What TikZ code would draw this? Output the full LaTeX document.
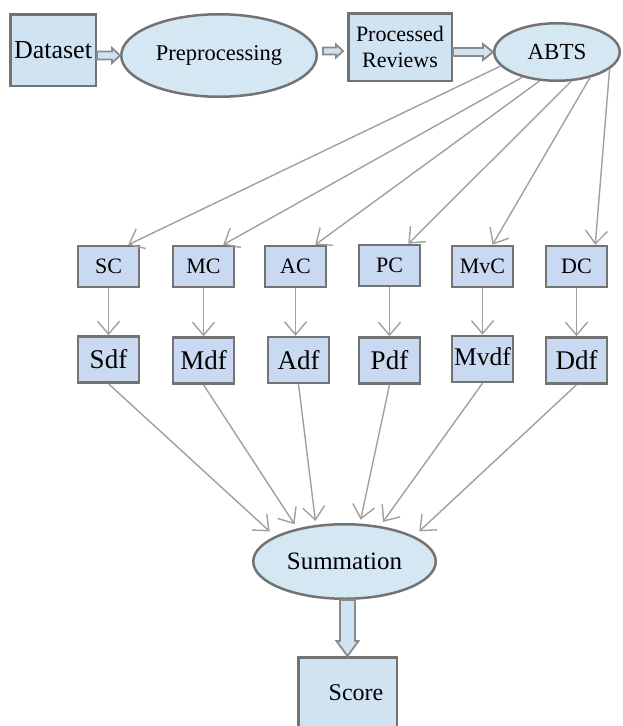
\documentclass[tikz,border=0pt]{standalone}
\usepackage{fontspec}
\setmainfont{Liberation Serif}[Ligatures=TeX]
\usetikzlibrary{shapes.geometric,arrows.meta,calc}
\definecolor{bordergray}{HTML}{737373}
\definecolor{topfill}{HTML}{D0E3F3}
\definecolor{ellfill}{HTML}{D6E7F4}
\definecolor{cfill}{HTML}{C9D9F1}
\definecolor{conncol}{HTML}{A0A0A0}
\definecolor{blkline}{HTML}{8A8A8A}
\newcommand{\hblockarrow}[5]{%
  \coordinate (#1-tip) at (#2 |- #1);
  \draw[blockarrow] ($(#1)+(0,#3)$) -- ($(#1-tip)+(-#5,#3)$) -- ($(#1-tip)+(-#5,#4)$) -- (#1-tip) -- ($(#1-tip)+(-#5,-#4)$) -- ($(#1-tip)+(-#5,-#3)$) -- ($(#1)+(0,-#3)$) -- cycle;}
\newcommand{\vblockarrow}[5]{%
  \coordinate (#1-tip) at (#1 |- #2);
  \draw[blockarrow] ($(#1)+(-#3,0)$) -- ($(#1-tip)+(-#3,-#5)$) -- ($(#1-tip)+(-#4,-#5)$) -- (#1-tip) -- ($(#1-tip)+(#4,-#5)$) -- ($(#1-tip)+(#3,-#5)$) -- ($(#1)+(#3,0)$) -- cycle;}
\begin{document}
\begin{tikzpicture}[x=1pt,y=-1pt,
  topbox/.style={draw=bordergray, line width=2.5pt, fill=topfill, inner sep=0pt, align=center},
  ellnode/.style={ellipse, draw=bordergray, line width=2.5pt, fill=ellfill, inner sep=0pt},
  cbox/.style={draw=bordergray, line width=2.5pt, fill=cfill, inner sep=0pt, minimum width=61pt, minimum height=41pt, font=\fontsize{22}{26}\selectfont},
  dfbox/.style={draw=bordergray, line width=2.5pt, fill=cfill, inner sep=0pt, minimum width=61pt, minimum height=46pt, font=\fontsize{27}{30}\selectfont},
  conn/.style={draw=conncol, line width=1.4pt, -{Straight Barb[length=13pt,width=22pt,line width=1.4pt]}},
  blockarrow/.style={draw=blkline, line width=1.8pt, fill=topfill, line join=miter}]
\useasboundingbox (0,0) rectangle (623,726);

% top row
\node[topbox, minimum width=85.5pt, minimum height=71.5pt, font=\fontsize{26}{30}\selectfont] (ds) at (53,50) {Dataset};
\node[ellnode, minimum width=195.5pt, minimum height=82.5pt, font=\fontsize{22.5}{26}\selectfont] (pre) at (219,55.5) {Preprocessing};
\node[topbox, minimum width=103.5pt, minimum height=67.5pt, font=\fontsize{22}{26}\selectfont] (pr) at (400,47) {Processed\\Reviews};
\node[ellnode, minimum width=125.5pt, minimum height=57.5pt, font=\fontsize{23}{26}\selectfont] (abts) at (557,52) {ABTS};

% C row
\node[cbox] (sc) at (108.5,266.5) {SC};
\node[cbox] (mc) at (203.5,266.5) {MC};
\node[cbox] (ac) at (295.5,266.5) {AC};
\node[cbox] (pc) at (389.5,265.5) {PC};
\node[cbox] (mvc) at (482.5,266.5) {MvC};
\node[cbox] (dc) at (576.5,266.5) {DC};

% df row
\node[dfbox] (sdf) at (108.5,359.5) {Sdf};
\node[dfbox] (mdf) at (203.5,360.5) {Mdf};
\node[dfbox] (adf) at (298.5,360) {Adf};
\node[dfbox] (pdf) at (389.5,360.5) {Pdf};
\node[dfbox, font=\fontsize{25.5}{28}\selectfont] (mvdf) at (482.5,359) {\raisebox{5pt}{Mvdf}};
\node[dfbox] (ddf) at (576.5,360.5) {Ddf};

% bottom
\node[ellnode, minimum width=182.5pt, minimum height=74.5pt, font=\fontsize{25}{28}\selectfont] (sum) at (344.5,561.5) {Summation};
\node[topbox, minimum width=98.5pt, minimum height=70.5pt, font=\fontsize{24}{28}\selectfont] (score) at (347.5,692.5) {\hspace*{17pt}Score};

% ABTS fan-out
\draw[conn] (abts.194.3) -- ([xshift=-12pt]sc.north east);
\draw[conn] (abts.216.3) -- ([xshift=-12pt]mc.north east);
\draw[conn] (abts.239.6) -- ([xshift=-12pt]ac.north east);
\draw[conn] (abts.296.6) -- ([xshift=-13pt]pc.north east);
\draw[conn] (abts.322) -- ([xshift=10pt]mvc.north);
\draw[conn] (abts.342.8) -- ([xshift=-13pt]dc.north east);

% C -> df
\draw[conn] (sc) -- (sdf);
\draw[conn] (mc) -- (mdf);
\draw[conn] (ac.south) -- (ac.south |- adf.north);
\draw[conn] (pc) -- (pdf);
\draw[conn] (mvc) -- (mvdf);
\draw[conn] (dc) -- (ddf);

% df -> Summation
\draw[conn, shorten >=7pt] (sdf.south) -- (sum.160.7);
\draw[conn, shorten >=5pt] (mdf.south) -- (sum.145);
\draw[conn, shorten >=4pt] (adf.south) -- (sum.128.6);
\draw[conn, shorten >=4pt] (pdf.south) -- (sum.68.6);
\draw[conn, shorten >=5pt] (mvdf.south) -- (sum.45.7);
\draw[conn, shorten >=7pt] (ddf.south) -- (sum.20.6);

% block arrows
\coordinate (a1s) at (ds.east |- pre.center);
\hblockarrow{a1s}{pre.west}{4}{7.5}{8}
\coordinate (a2s) at ($(pre.east)+(5,-4.5)$);
\coordinate (a2e) at ($(pr.west)+(-4,0)$);
\hblockarrow{a2s}{a2e}{3.5}{6.5}{7}
\coordinate (a3s) at (pr.east |- abts.west);
\hblockarrow{a3s}{abts.west}{4}{8}{10}
\coordinate (a4s) at (score.north |- sum.south);
\vblockarrow{a4s}{score.north}{7.5}{11}{15}
\end{tikzpicture}
\end{document}
